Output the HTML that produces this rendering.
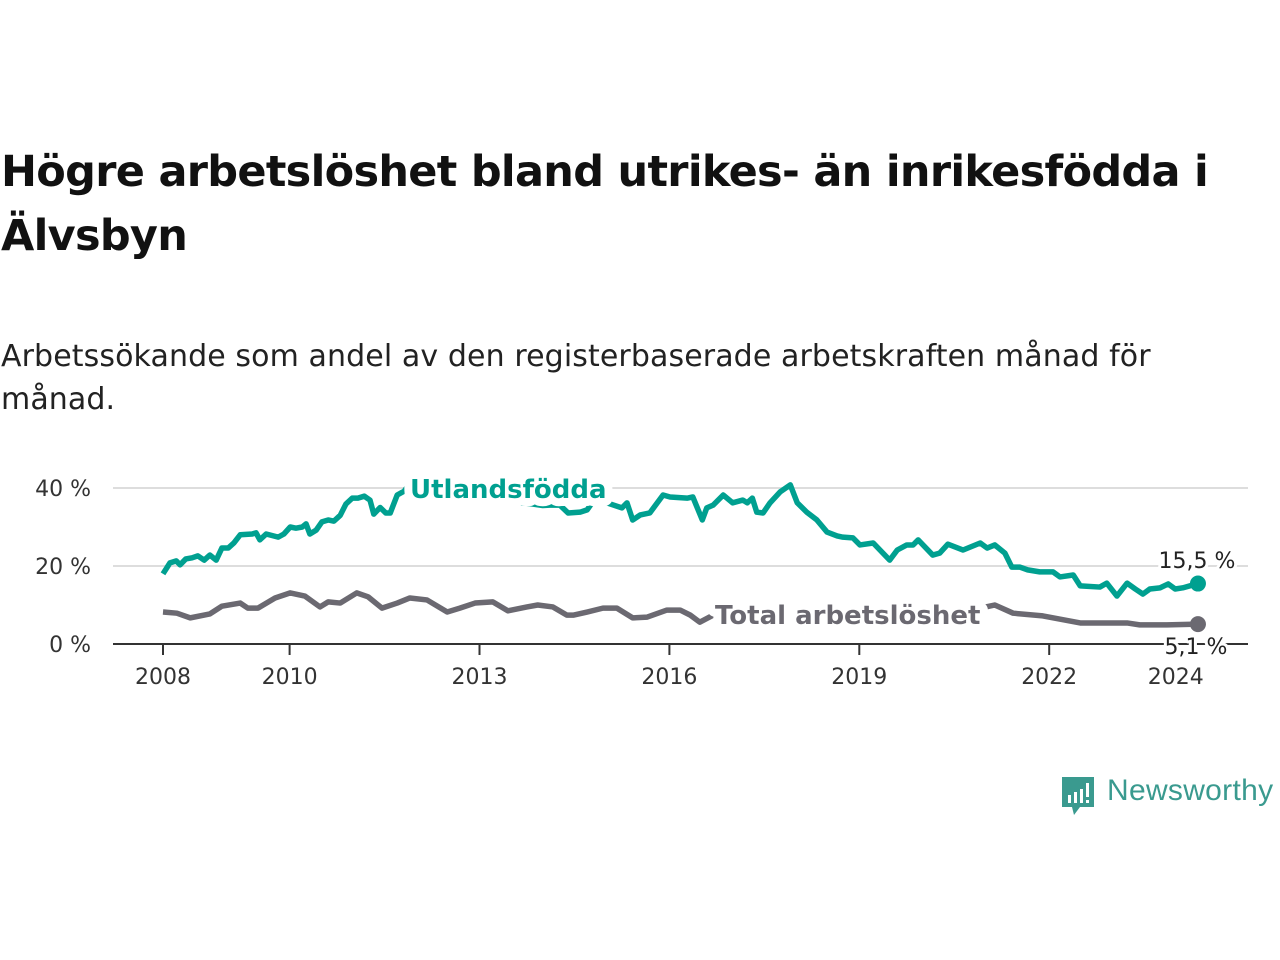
<!DOCTYPE html>
<html><head><meta charset="utf-8"><style>
body{margin:0;width:1280px;height:960px;background:#fff;font-family:"DejaVu Sans","Liberation Sans",sans-serif;overflow:hidden;position:relative}
h1{position:absolute;left:1px;top:140px;margin:0;font-size:43px;line-height:64px;font-weight:bold;color:#111;width:1240px;letter-spacing:-0.7px}
.sub{position:absolute;left:1px;top:335px;margin:0;font-size:30px;line-height:43px;color:#222;width:1200px;letter-spacing:0.1px}
svg{position:absolute;left:0;top:0}
</style></head><body>
<h1>Högre arbetslöshet bland utrikes- än inrikesfödda i Älvsbyn</h1>
<p class="sub">Arbetssökande som andel av den registerbaserade arbetskraften månad för månad.</p>
<svg id="chart" width="1280" height="960"></svg>
<div style="position:absolute;left:1060px;top:775px;width:220px;height:42px">
<svg width="36" height="42" style="position:absolute;left:0;top:0"><path d="M2 2h32v30H20l-6 8-2-8H2z" fill="#3a9a8f"/><rect x="8" y="20" width="3" height="8" fill="#fff"/><rect x="14" y="17" width="3" height="11" fill="#fff"/><rect x="20" y="14" width="3" height="14" fill="#fff"/><rect x="26" y="8" width="3" height="14" fill="#fff"/><rect x="26" y="25" width="3" height="3" fill="#fff"/></svg>
<span style="position:absolute;left:47px;top:-1px;font-size:30px;font-family:'Liberation Sans',sans-serif;color:#3a9a8f;line-height:34px;letter-spacing:0.3px">Newsworthy</span></div>
<script>
const yTicks=[0,20,40];
const xTicks=[2008,2010,2013,2016,2019,2022,2024];
const utlDates=[2008.00,2008.11,2008.21,2008.27,2008.36,2008.46,2008.55,2008.65,2008.74,2008.84,2008.93,2009.03,2009.12,2009.22,2009.41,2009.47,2009.53,2009.63,2009.82,2009.91,2010.01,2010.10,2010.20,2010.26,2010.32,2010.42,2010.51,2010.61,2010.70,2010.80,2010.89,2010.99,2011.08,2011.18,2011.27,2011.33,2011.43,2011.52,2011.59,2011.70,2011.81,2011.87,2012.0,2012.3,2012.6,2012.9,2013.2,2013.5,2013.8,2014.0,2014.11,2014.27,2014.40,2014.59,2014.70,2014.78,2014.90,2015.01,2015.25,2015.33,2015.42,2015.54,2015.69,2015.90,2016.01,2016.28,2016.37,2016.52,2016.59,2016.69,2016.85,2017.00,2017.16,2017.23,2017.31,2017.38,2017.48,2017.59,2017.75,2017.91,2018.02,2018.17,2018.33,2018.49,2018.65,2018.74,2018.90,2019.01,2019.22,2019.48,2019.60,2019.75,2019.85,2019.93,2020.16,2020.27,2020.40,2020.64,2020.91,2021.02,2021.14,2021.30,2021.41,2021.54,2021.66,2021.85,2022.06,2022.17,2022.38,2022.49,2022.80,2022.91,2023.07,2023.23,2023.36,2023.48,2023.59,2023.75,2023.88,2023.99,2024.11,2024.35];
const utlValues=[18.0,20.8,21.3,20.3,21.8,22.1,22.6,21.5,22.8,21.5,24.6,24.6,25.9,28.0,28.2,28.5,26.7,28.2,27.4,28.2,30.0,29.7,30.0,30.8,28.2,29.2,31.3,31.8,31.5,33.0,35.9,37.4,37.4,37.9,36.9,33.3,35.0,33.6,33.6,38.2,39.2,40.5,39.5,38.5,38.0,37.5,37.0,36.5,36.0,35.5,35.6,35.6,33.6,33.8,34.4,36.2,36.5,36.2,34.9,36.2,31.8,33.1,33.6,38.2,37.7,37.4,37.7,31.8,34.9,35.6,38.2,36.2,36.9,36.2,37.4,33.8,33.6,36.2,39.0,40.8,36.2,33.8,31.8,28.7,27.7,27.4,27.2,25.4,25.9,21.5,24.1,25.4,25.4,26.7,22.8,23.3,25.6,24.1,25.9,24.6,25.4,23.3,19.7,19.7,19.0,18.5,18.5,17.2,17.7,14.9,14.6,15.6,12.3,15.6,14.1,12.8,14.1,14.4,15.4,14.1,14.4,15.5];
const totDates=[2008.00,2008.22,2008.43,2008.74,2008.93,2009.22,2009.34,2009.50,2009.77,2010.01,2010.24,2010.48,2010.61,2010.80,2011.06,2011.24,2011.46,2011.70,2011.90,2012.17,2012.49,2012.69,2012.93,2013.21,2013.45,2013.75,2013.92,2014.16,2014.38,2014.48,2014.70,2014.95,2015.17,2015.42,2015.65,2015.96,2016.17,2016.33,2016.48,2016.69,2017.0,2017.5,2018.0,2018.5,2019.0,2019.5,2020.0,2020.5,2021.0,2021.14,2021.43,2021.90,2022.49,2023.23,2023.43,2023.86,2024.35];
const totValues=[8.2,7.9,6.7,7.7,9.7,10.5,9.2,9.2,11.8,13.1,12.3,9.5,10.8,10.5,13.1,12.1,9.2,10.5,11.8,11.3,8.2,9.2,10.5,10.8,8.5,9.5,10.0,9.5,7.4,7.4,8.2,9.2,9.2,6.7,6.9,8.7,8.7,7.4,5.6,7.4,8.2,8.5,8.2,8.5,8.0,7.5,8.0,8.5,9.5,10.0,7.9,7.2,5.4,5.4,4.9,4.9,5.1];
const NS="http://www.w3.org/2000/svg";
const svg=document.getElementById('chart');
const X=d=>163+(d-2008)*63.3;
const Y=v=>644-v*3.9;
function mk(t,a){const e=document.createElementNS(NS,t);for(const k in a)e.setAttribute(k,a[k]);svg.appendChild(e);return e;}
yTicks.forEach(v=>{
 if(v>0){const g=mk('line',{x1:113,x2:1248,y1:Y(v),y2:Y(v),stroke:'#ddd','stroke-width':2});
 
 }
 const t=mk('text',{x:91,y:Y(v)+8,'text-anchor':'end','font-size':22,fill:'#333'});t.textContent=v+' %';
 
 
});
xTicks.forEach(d=>{
 const l=mk('line',{x1:X(d),x2:X(d),y1:644,y2:655,stroke:'#333','stroke-width':2});
 
 
 const t=mk('text',{x:X(d),y:684,'text-anchor':'middle','font-size':22,fill:'#333'});t.textContent=d;
 
 
});
const ax=mk('line',{x1:113,x2:1248,y1:644,y2:644,stroke:'#333','stroke-width':2});


function series(dates,vals,col,name){
 const p=mk('polyline',{points:dates.map((d,i)=>X(d)+','+Y(vals[i])).join(' '),fill:'none',stroke:col,'stroke-width':5.5,'stroke-linejoin':'round'});
 
 
 const n=dates.length-1;
 const c=mk('circle',{cx:X(dates[n]),cy:Y(vals[n]),r:8,fill:col});
 
 
}
series(totDates,totValues,'#6b6971','total');
series(utlDates,utlValues,'#00a090','utlandsfodda');
function lab(txt,x,y,col,size,bold,anchor,name,halo){
 const t=mk('text',{x:x,y:y,'font-size':size,fill:col,'font-weight':bold?'bold':'normal','text-anchor':anchor,stroke:'#fff','stroke-width':halo,'paint-order':'stroke','stroke-linejoin':'round'});
 t.textContent=txt;
 
 
}
lab('Utlandsfödda',410,498,'#00a090',26,true,'start','utlandsfodda-label',16);
lab('Total arbetslöshet',715,624,'#6b6971',26,true,'start','total-label',16);
lab('15,5 %',1197,568,'#222',22,false,'middle','utlandsfodda-value-label',6);
lab('5,1 %',1196,654,'#222',22,false,'middle','total-value-label',6);
</script>
</body></html>
